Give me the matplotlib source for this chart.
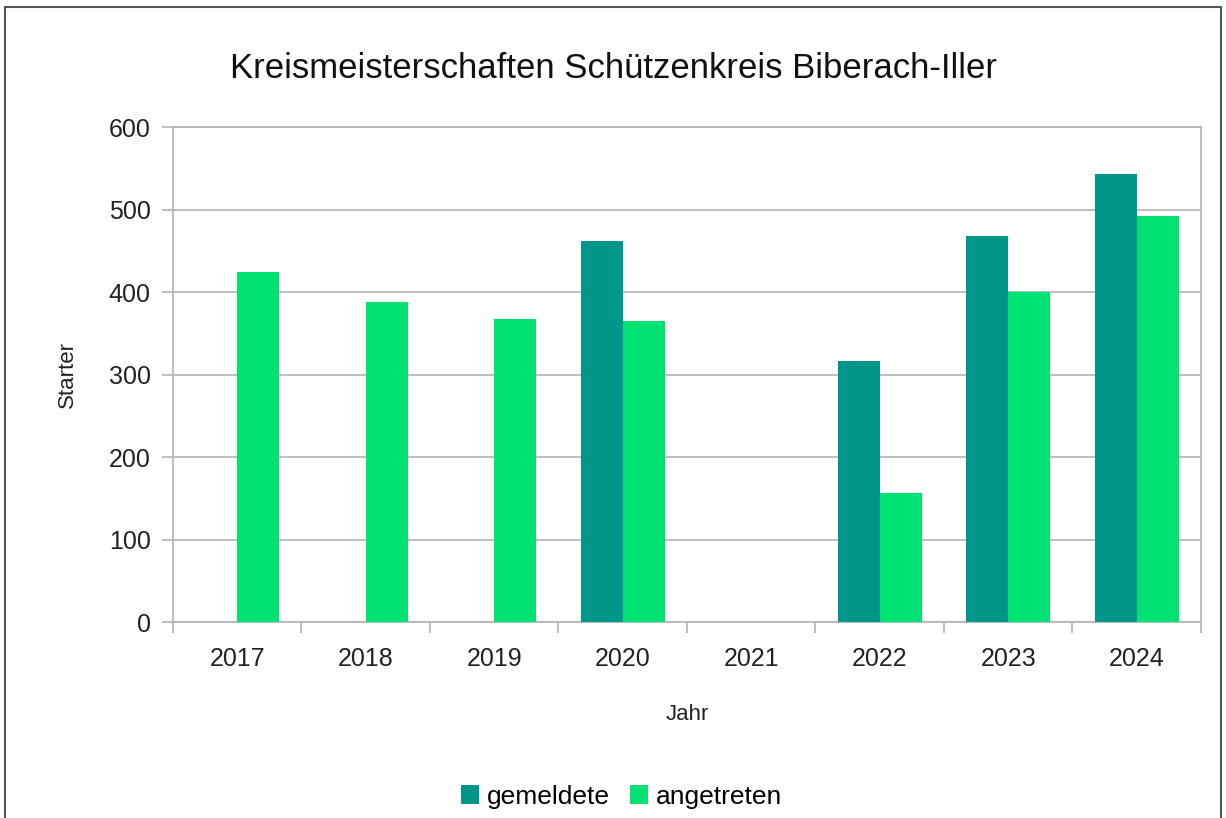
import numpy as np
import matplotlib
matplotlib.use("Agg")
import matplotlib.pyplot as plt
from matplotlib.patches import Rectangle

# Daten
jahre = ["2017", "2018", "2019", "2020", "2021", "2022", "2023", "2024"]
gemeldete = [np.nan, np.nan, np.nan, 462, np.nan, 316, 468, 543]
angetreten = [424, 388, 367, 365, np.nan, 156, 400, 492]
yticks = [0, 100, 200, 300, 400, 500, 600]

plt.rcParams['font.family'] = ['Liberation Sans', 'DejaVu Sans']

col_gem = "#00968a"
col_ang = "#00e272"
grau = "#b3b3b3"

fig = plt.figure(figsize=(12.26, 8.18), dpi=100)
ax = fig.add_axes([0.1411, 0.2396, 0.8385, 0.6051])

x = np.arange(len(jahre))
w = 0.327
ax.bar(x - w / 2, gemeldete, width=w, color=col_gem, label="gemeldete", zorder=3)
ax.bar(x + w / 2, angetreten, width=w, color=col_ang, label="angetreten", zorder=3)

ax.set_xlim(-0.5, len(jahre) - 0.5)
ax.set_ylim(0, 600)
ax.set_yticks(yticks)
ax.set_yticklabels([str(v) for v in yticks], fontsize=18, color="#222222")
ax.yaxis.grid(True, color=grau, linewidth=1.2, zorder=0)

# Kategorien mittig, Striche an den Grenzen
ax.set_xticks(x)
ax.set_xticklabels(jahre, fontsize=18, color="#222222")
ax.tick_params(axis="x", length=0, pad=18)
ax.set_xticks(np.arange(-0.5, len(jahre)), minor=True)
ax.tick_params(axis="x", which="minor", length=8, color=grau, width=1.2)
ax.tick_params(axis="y", length=8, color=grau, width=1.2, pad=8)

for s in ax.spines.values():
    s.set_color(grau)
    s.set_linewidth(1.2)

ax.set_ylabel("Starter", fontsize=16, color="#222222", labelpad=22)
ax.set_xlabel("Jahr", fontsize=16, color="#222222", labelpad=24)

fig.suptitle("Kreismeisterschaften Schützenkreis Biberach-Iller", fontsize=25,
             color="#111111", y=1 - 68 / 818, va="center")

fig.legend(loc="center", bbox_to_anchor=(0.507, 0.026), ncol=2, frameon=False,
           fontsize=19, handlelength=0.7, handleheight=0.7, handletextpad=0.3,
           columnspacing=0.75)

# Rahmen um das ganze Bild
fig.patches.append(Rectangle((5 / 1226, -0.05), 1216 / 1226, 1.05 - 7 / 818,
                             transform=fig.transFigure, fill=False,
                             edgecolor="#555555", linewidth=1.5))

fig.savefig("out.png", dpi=100)
